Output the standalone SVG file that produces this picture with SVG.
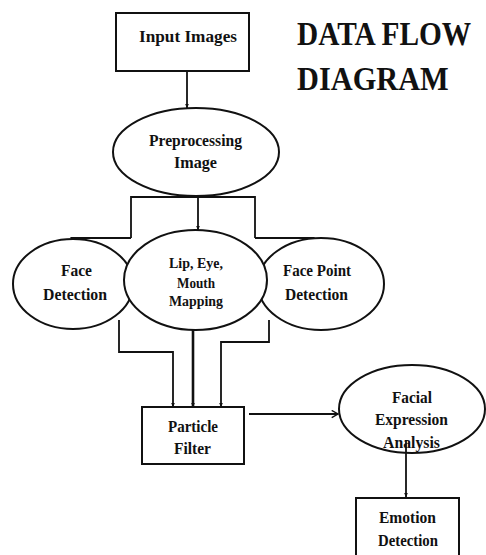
<svg xmlns="http://www.w3.org/2000/svg" width="486" height="555" viewBox="0 0 486 555">
<defs>
<marker id="ah" viewBox="0 0 10 10" refX="9" refY="5" markerWidth="5" markerHeight="5" orient="auto" markerUnits="userSpaceOnUse">
<path d="M0,1 L10,5 L0,9 z" fill="#111"/>
</marker>
<marker id="ah2" viewBox="0 0 10 10" refX="9" refY="5" markerWidth="9" markerHeight="9" orient="auto" markerUnits="userSpaceOnUse">
<path d="M2,1 L9,5 L2,9" fill="none" stroke="#111" stroke-width="1.5"/>
</marker>
</defs>
<style>
.shape{fill:#fff;stroke:#111;stroke-width:2}
.t{font-family:"Liberation Serif","Times New Roman",serif;font-weight:bold;fill:#111;text-anchor:start}
.n{font-size:17px}
.s{font-size:15px}
.title{font-size:33px}
.c{fill:none;stroke:#111;stroke-width:1.8}
.ck{fill:none;stroke:#111;stroke-width:2.6}
</style>
<rect width="486" height="555" fill="#fff"/>
<g id="title">
<text class="t title" transform="translate(297,45) scale(0.89,1)" x="0" y="0">DATA FLOW</text>
<text class="t title" transform="translate(297,90) scale(0.92,1)" x="0" y="0">DIAGRAM</text>
</g>
<g id="connectors">
<path class="c" d="M187,71 V108" marker-end="url(#ah)"/>
<path class="c" d="M131,238 V197 H255 V238"/>
<path class="c" d="M131,238 H72 V241" marker-end="url(#ah)"/>
<path class="c" d="M255,238 H313 V241" marker-end="url(#ah)"/>
<path class="c" d="M198,188 V230" marker-end="url(#ah)"/>
<path class="c" d="M119,320 V352 H173 V407" marker-end="url(#ah)"/>
<path class="ck" d="M193,330 V407" marker-end="url(#ah)"/>
<path class="c" d="M269,320 V342 H221 V407" marker-end="url(#ah)"/>
<path class="c" d="M249,414 H338" marker-end="url(#ah2)"/>
<path class="c" d="M406,440 V497" marker-end="url(#ah)"/>
</g>
<g id="input-images">
<rect class="shape" x="116" y="13" width="133" height="58"/>
<text class="t n" x="139" y="42" textLength="98" lengthAdjust="spacingAndGlyphs">Input Images</text>
</g>
<g id="preprocessing">
<ellipse class="shape" cx="196" cy="152" rx="83" ry="44"/>
<text class="t n" x="149" y="146" textLength="93" lengthAdjust="spacingAndGlyphs">Preprocessing</text>
<text class="t n" x="174" y="168" textLength="43" lengthAdjust="spacingAndGlyphs">Image</text>
</g>
<g id="face-detection">
<ellipse class="shape" cx="73" cy="284" rx="60" ry="45"/>
<text class="t n" x="61" y="276" textLength="31" lengthAdjust="spacingAndGlyphs">Face</text>
<text class="t n" x="43" y="300" textLength="64" lengthAdjust="spacingAndGlyphs">Detection</text>
</g>
<g id="face-point-detection">
<ellipse class="shape" cx="321" cy="284" rx="63" ry="46"/>
<text class="t n" x="283" y="276" textLength="68" lengthAdjust="spacingAndGlyphs">Face Point</text>
<text class="t n" x="285" y="300" textLength="63" lengthAdjust="spacingAndGlyphs">Detection</text>
</g>
<g id="lip-eye-mouth">
<ellipse class="shape" cx="195.5" cy="280" rx="71.5" ry="50"/>
<text class="t s" x="169" y="268" textLength="54" lengthAdjust="spacingAndGlyphs">Lip, Eye,</text>
<text class="t s" x="177" y="288" textLength="38" lengthAdjust="spacingAndGlyphs">Mouth</text>
<text class="t s" x="169" y="306" textLength="54" lengthAdjust="spacingAndGlyphs">Mapping</text>
</g>
<g id="particle-filter">
<rect class="shape" x="142" y="407" width="102" height="57"/>
<text class="t n" x="168" y="432" textLength="50" lengthAdjust="spacingAndGlyphs">Particle</text>
<text class="t n" x="174" y="454" textLength="37" lengthAdjust="spacingAndGlyphs">Filter</text>
</g>
<g id="facial-expression">
<ellipse class="shape" cx="412" cy="409" rx="73" ry="44"/>
<text class="t n" x="392" y="403" textLength="40" lengthAdjust="spacingAndGlyphs">Facial</text>
<text class="t n" x="375" y="425" textLength="73" lengthAdjust="spacingAndGlyphs">Expression</text>
<text class="t n" x="383" y="448" textLength="57" lengthAdjust="spacingAndGlyphs">Analysis</text>
</g>
<path class="c" d="M406,440 V453"/>
<g id="emotion-detection">
<rect class="shape" x="356" y="498" width="103" height="62"/>
<text class="t n" x="379" y="523" textLength="57" lengthAdjust="spacingAndGlyphs">Emotion</text>
<text class="t n" x="378" y="546" textLength="60" lengthAdjust="spacingAndGlyphs">Detection</text>
</g>
</svg>
